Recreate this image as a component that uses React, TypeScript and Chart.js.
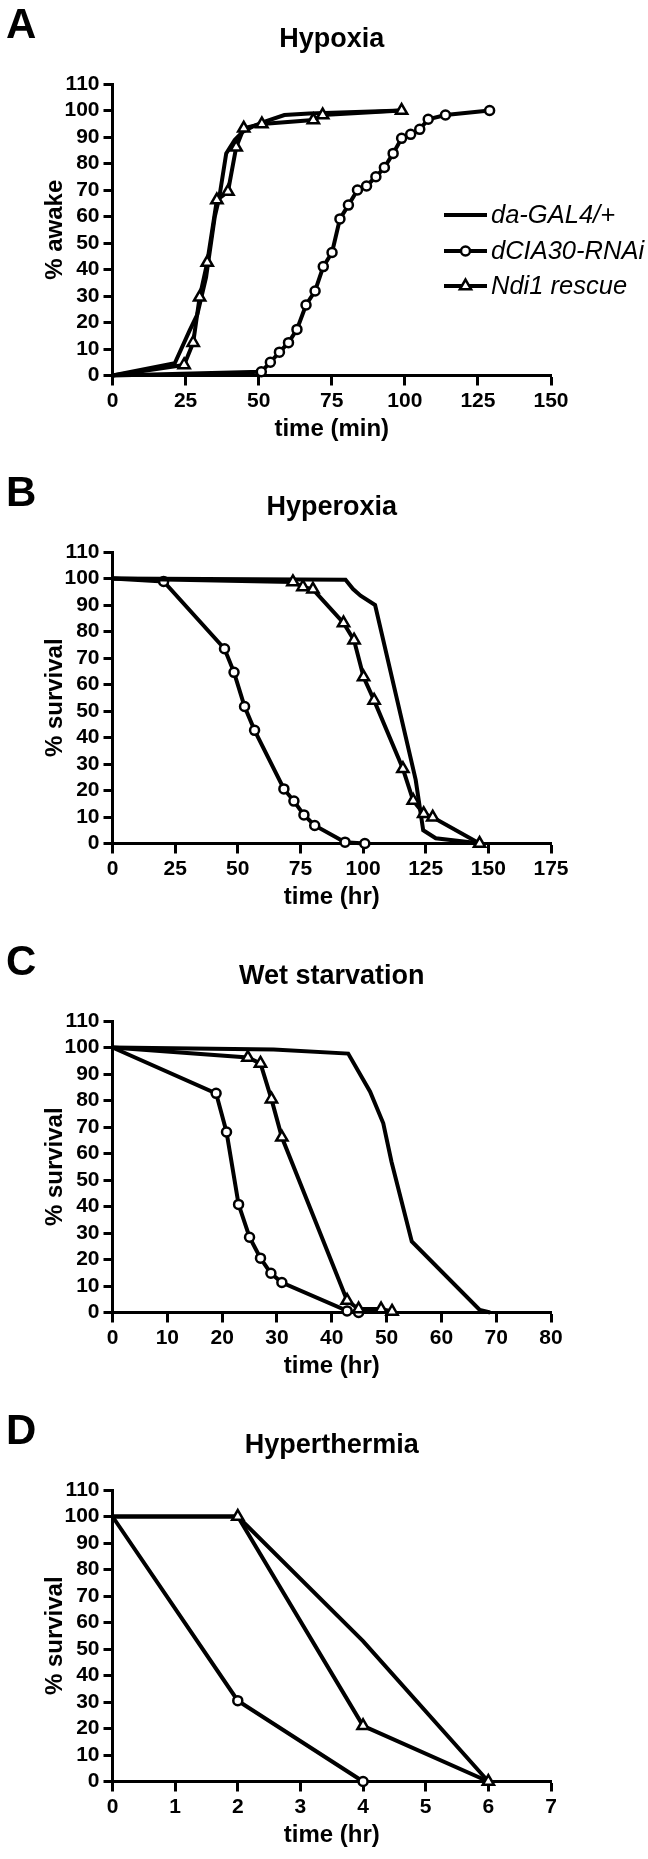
import React, { useEffect, useRef } from 'react';
import { Chart, registerables } from 'chart.js';

Chart.register(...registerables);

const FONT = '"Liberation Sans", Arial, Helvetica, sans-serif';

const seriesNames = ['da-GAL4/+', 'dCIA30-RNAi', 'Ndi1 rescue'];

// Panel A: Hypoxia (time in min, % awake)
const hypoxiaCtrlX = [0, 21.3, 26.4, 29, 32, 35, 36.5, 38.9, 41.8, 44.6, 48, 52.6, 58.8, 67.3, 99];
const hypoxiaCtrlY = [0, 4.6, 17, 23, 37, 60, 67, 83.8, 88.9, 92, 94, 96, 98.3, 98.9, 100];
const hypoxiaRnaiX = [0, 50.9, 54.0, 57.1, 60.2, 63.1, 66.2, 69.3, 72.1, 75.1, 77.8, 80.7, 83.8, 86.9, 90.1, 93.0, 96.0, 98.9, 102.0, 105.1, 108.0, 113.9, 129.0];
const hypoxiaRnaiY = [0, 1.4, 5.0, 8.8, 12.4, 17.4, 26.6, 31.9, 41.1, 46.4, 59.1, 64.3, 70.0, 71.5, 75.0, 78.5, 83.8, 89.5, 91.0, 92.9, 96.7, 98.3, 100];
const hypoxiaNdi1X = [0, 24.5, 27.6, 29.8, 32.4, 35.7, 39.5, 42.3, 44.9, 51.1, 68.7, 71.9, 98.9];
const hypoxiaNdi1Y = [0, 4.0, 12.4, 29.5, 42.6, 66.2, 69.4, 86.1, 93.3, 94.9, 96.4, 98.3, 100];

// Panel B: Hyperoxia (time in hr, % survival)
const hyperoxiaCtrlX = [0, 93, 96, 99, 104.8, 121, 124, 129, 147];
const hyperoxiaCtrlY = [100, 99.5, 96, 93.5, 90, 24, 5, 2, 0];
const hyperoxiaRnaiX = [0, 20.4, 44.7, 48.5, 52.7, 56.7, 68.4, 72.4, 76.4, 80.7, 92.8, 100.7];
const hyperoxiaRnaiY = [100, 98.9, 73.5, 64.6, 51.7, 42.7, 20.6, 16.0, 10.8, 6.8, 0.5, 0];
const hyperoxiaNdi1X = [0, 72.0, 76.0, 80.0, 92.2, 96.4, 100.2, 104.4, 115.9, 120.0, 124.2, 127.8, 146.5];
const hyperoxiaNdi1Y = [100, 98.7, 96.8, 95.9, 83.2, 76.7, 62.8, 54.0, 28.2, 16.2, 11.2, 9.9, 0];

// Panel C: Wet starvation (time in hr, % survival)
const starvationCtrlX = [0, 29.4, 43, 47, 49.4, 50.9, 54.6, 67, 68.9];
const starvationCtrlY = [100, 99.2, 97.7, 83.3, 71.4, 56.9, 26.8, 1, 0];
const starvationRnaiX = [0, 18.9, 20.8, 23.0, 25.0, 27.0, 28.9, 30.9, 42.8, 44.9];
const starvationRnaiY = [100, 82.7, 68.1, 40.8, 28.4, 20.5, 14.8, 11.3, 0.6, 0];
const starvationNdi1X = [0, 24.7, 27.0, 29.0, 30.9, 42.8, 44.9, 49.0, 51.0];
const starvationNdi1Y = [100, 96.2, 94.0, 80.5, 66.1, 4.5, 1.3, 1.3, 0.4];

// Panel D: Hyperthermia (time in hr, % survival)
const thermiaCtrlX = [0, 2, 4, 6];
const thermiaCtrlY = [100, 100, 53, 0];
const thermiaRnaiX = [0, 2, 4];
const thermiaRnaiY = [100, 30.5, 0];
const thermiaNdi1X = [0, 2, 4, 6];
const thermiaNdi1Y = [100, 100, 21, 0];

const yTicks = [0, 10, 20, 30, 40, 50, 60, 70, 80, 90, 100, 110];

type PanelCfg = {
  letter: string;
  title: string;
  yTitle: string;
  xTitle: string;
  xMax: number;
  xStep: number;
  height: number;
  legend: boolean;
  ctrl: [number[], number[]];
  rnai: [number[], number[]];
  ndi1: [number[], number[]];
};

const panels: PanelCfg[] = [
  { letter: 'A', title: 'Hypoxia', yTitle: '% awake', xTitle: 'time (min)', xMax: 150, xStep: 25, height: 468, legend: true,
    ctrl: [hypoxiaCtrlX, hypoxiaCtrlY], rnai: [hypoxiaRnaiX, hypoxiaRnaiY], ndi1: [hypoxiaNdi1X, hypoxiaNdi1Y] },
  { letter: 'B', title: 'Hyperoxia', yTitle: '% survival', xTitle: 'time (hr)', xMax: 175, xStep: 25, height: 469, legend: false,
    ctrl: [hyperoxiaCtrlX, hyperoxiaCtrlY], rnai: [hyperoxiaRnaiX, hyperoxiaRnaiY], ndi1: [hyperoxiaNdi1X, hyperoxiaNdi1Y] },
  { letter: 'C', title: 'Wet starvation', yTitle: '% survival', xTitle: 'time (hr)', xMax: 80, xStep: 10, height: 469, legend: false,
    ctrl: [starvationCtrlX, starvationCtrlY], rnai: [starvationRnaiX, starvationRnaiY], ndi1: [starvationNdi1X, starvationNdi1Y] },
  { letter: 'D', title: 'Hyperthermia', yTitle: '% survival', xTitle: 'time (hr)', xMax: 7, xStep: 1, height: 453, legend: false,
    ctrl: [thermiaCtrlX, thermiaCtrlY], rnai: [thermiaRnaiX, thermiaRnaiY], ndi1: [thermiaNdi1X, thermiaNdi1Y] },
];

const PLOT_TOP = 84;
const PLOT_BOTTOM = 375.5;
const PLOT_LEFT = 112.5;
const PLOT_RIGHT = 551;

const toPoints = (xs: number[], ys: number[]) => xs.map((x, i) => ({ x, y: ys[i] }));

const CIRCLE_R = 4.5;
const TRI_R = 6.5;

function drawMarker(ctx: CanvasRenderingContext2D, style: string, x: number, y: number) {
  ctx.save();
  ctx.fillStyle = '#fff';
  ctx.strokeStyle = '#000';
  ctx.lineWidth = 2.5;
  ctx.beginPath();
  if (style === 'circle') {
    ctx.arc(x, y, CIRCLE_R, 0, Math.PI * 2);
  } else {
    let rad = 0;
    ctx.moveTo(x + Math.sin(rad) * TRI_R, y - Math.cos(rad) * TRI_R);
    rad += (2 * Math.PI) / 3;
    ctx.lineTo(x + Math.sin(rad) * TRI_R, y - Math.cos(rad) * TRI_R);
    rad += (2 * Math.PI) / 3;
    ctx.lineTo(x + Math.sin(rad) * TRI_R, y - Math.cos(rad) * TRI_R);
    ctx.closePath();
  }
  ctx.fill();
  ctx.stroke();
  ctx.restore();
}

const panelDecor = {
  id: 'panelDecor',
  afterDraw(chart: any, _args: any, opts: any) {
    const { ctx, chartArea } = chart;
    const cx = (chartArea.left + chartArea.right) / 2;
    ctx.save();
    ctx.fillStyle = '#000';
    // panel letter
    ctx.font = `bold 42px ${FONT}`;
    ctx.textAlign = 'left';
    ctx.textBaseline = 'alphabetic';
    ctx.fillText(opts.letter, 6, chartArea.top - 46);
    // title
    ctx.font = `bold 27px ${FONT}`;
    ctx.textAlign = 'center';
    ctx.fillText(opts.title, cx, chartArea.top - 37);
    // x title
    ctx.font = `bold 24px ${FONT}`;
    ctx.fillText(opts.xTitle, cx, chartArea.bottom + 60);
    // y title
    ctx.save();
    ctx.translate(62, (chartArea.top + chartArea.bottom) / 2);
    ctx.rotate(-Math.PI / 2);
    ctx.fillText(opts.yTitle, 0, 0);
    ctx.restore();
    // legend
    if (opts.legend) {
      const styles = ['none', 'circle', 'triangle'];
      const rows = [215, 251, 286];
      ctx.font = `italic 25.5px ${FONT}`;
      ctx.textAlign = 'left';
      ctx.textBaseline = 'middle';
      seriesNames.forEach((name, i) => {
        const y = rows[i];
        ctx.save();
        ctx.strokeStyle = '#000';
        ctx.lineWidth = 4;
        ctx.beginPath();
        ctx.moveTo(444, y);
        ctx.lineTo(487, y);
        ctx.stroke();
        ctx.restore();
        if (styles[i] !== 'none') drawMarker(ctx, styles[i], 465.5, y);
        ctx.fillStyle = '#000';
        ctx.fillText(name, 491, y + 1);
      });
    }
    ctx.restore();
  },
};

function Panel({ cfg }: { cfg: PanelCfg }) {
  const ref = useRef<HTMLCanvasElement | null>(null);
  useEffect(() => {
    if (!ref.current) return;
    const hidden = (r: number) => (c: any) => (c.dataIndex === 0 ? 0 : r);
    const common = {
      borderColor: '#000',
      borderWidth: 4,
      tension: 0,
      fill: false,
      showLine: true,
      clip: false as any,
      pointBackgroundColor: '#fff',
      pointBorderColor: '#000',
      pointBorderWidth: 2.5,
    };
    const chart = new Chart(ref.current, {
      type: 'scatter',
      data: {
        datasets: [
          { ...common, label: seriesNames[2], data: toPoints(cfg.ndi1[0], cfg.ndi1[1]), pointStyle: 'triangle', pointRadius: hidden(TRI_R), order: 0 },
          { ...common, label: seriesNames[1], data: toPoints(cfg.rnai[0], cfg.rnai[1]), pointStyle: 'circle', pointRadius: hidden(CIRCLE_R), order: 1 },
          { ...common, label: seriesNames[0], data: toPoints(cfg.ctrl[0], cfg.ctrl[1]), pointRadius: 0, order: 2 },
        ],
      },
      options: {
        animation: false,
        responsive: false,
        events: [],
        layout: { padding: { top: PLOT_TOP, left: 0, right: 648 - PLOT_RIGHT, bottom: 0 } },
        plugins: {
          legend: { display: false },
          tooltip: { enabled: false },
          panelDecor: { letter: cfg.letter, title: cfg.title, xTitle: cfg.xTitle, yTitle: cfg.yTitle, legend: cfg.legend },
        } as any,
        scales: {
          x: {
            type: 'linear',
            min: 0,
            max: cfg.xMax,
            afterFit: (s: any) => { s.height = cfg.height - PLOT_BOTTOM; },
            grid: { display: true, drawOnChartArea: false, drawTicks: true, tickLength: 10, tickWidth: 3, tickColor: '#000' },
            border: { display: true, width: 3, color: '#000' },
            ticks: { stepSize: cfg.xStep, autoSkip: false, maxRotation: 0, padding: 3, color: '#000', font: { family: FONT, size: 21, weight: 'bold' } },
          },
          y: {
            type: 'linear',
            min: 0,
            max: 110,
            afterFit: (s: any) => { s.width = PLOT_LEFT; },
            afterBuildTicks: (s: any) => { s.ticks = yTicks.map((v) => ({ value: v })); },
            grid: { display: true, drawOnChartArea: false, drawTicks: true, tickLength: 9, tickWidth: 3, tickColor: '#000' },
            border: { display: true, width: 3, color: '#000' },
            ticks: { autoSkip: false, padding: 4, color: '#000', font: { family: FONT, size: 21, weight: 'bold' } },
          },
        },
      },
      plugins: [panelDecor],
    });
    return () => chart.destroy();
  }, [cfg]);
  return <canvas ref={ref} width={648} height={cfg.height} style={{ display: 'block', width: 648, height: cfg.height }} />;
}

export default function App() {
  return (
    <div style={{ position: 'absolute', left: 0, top: 0, width: 648, height: 1859, background: '#fff' }}>
      {panels.map((p) => (
        <Panel key={p.letter} cfg={p} />
      ))}
    </div>
  );
}
